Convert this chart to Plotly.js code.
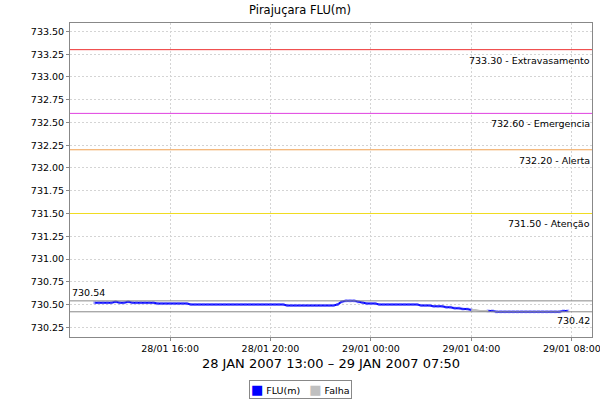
<!DOCTYPE html>
<html>
<head>
<meta charset="utf-8">
<script src="https://cdn.plot.ly/plotly-3.0.1.min.js"></script>
<style>html,body{margin:0;padding:0;background:#fff}#chart{width:600px;height:400px}</style>
</head>
<body>
<div id="chart"></div>
<script>
// Series: FLU(m), one reading every 10 minutes from 28/01/2007 13:00 to 29/01/2007 07:50
var startTime = '2007-01-28 13:00';
var stepMs = 600000;
var fluValues = [
  730.52,730.52,730.52,730.52,730.52,730.53,730.52,730.52,730.53,730.52,730.52,730.52,730.52,730.52,730.52,
  730.51,730.51,730.51,730.51,730.51,730.51,730.51,730.51,
  730.50,730.50,730.50,730.50,730.50,730.50,730.50,730.50,730.50,730.50,730.50,730.50,730.50,730.50,730.50,730.50,730.50,730.50,730.50,730.50,730.50,730.50,730.50,
  730.49,730.49,730.49,730.49,730.49,730.49,730.49,730.49,730.49,730.49,730.49,730.49,
  730.50,730.53,730.54,730.54,730.54,730.53,730.52,730.51,730.51,730.51,
  730.50,730.50,730.50,730.50,730.50,730.50,730.50,730.50,730.50,730.50,
  730.49,730.49,730.49,730.48,730.48,730.48,730.47,730.47,730.46,730.46,730.45,730.45,730.44,
  null,null,null,
  730.43,730.43,
  730.42,730.42,730.42,730.42,730.42,730.42,730.42,730.42,730.42,730.42,730.42,730.42,730.42,730.42,730.42,730.42,
  730.43,730.43
];
// Failure period (Falha)
var falhaTimes = ['2007-01-29 04:00','2007-01-29 04:10','2007-01-29 04:20','2007-01-29 04:30','2007-01-29 04:40'];
var falhaValues = [730.44,730.44,730.43,730.43,730.43];

// Alert levels
var levelValues = [733.30, 732.60, 732.20, 731.50];
var levelNames = ['Extravasamento', 'Emergencia', 'Alerta', 'Atenção'];
var levelColors = ['#ee3030', '#e040e0', '#f0a050', '#f0dc20'];
var maxValue = 730.54;
var minValue = 730.42;

var seriesNames = ['FLU(m)', 'Falha'];
var seriesColors = ['#0000ff', '#c0c0c0'];

var titleText = 'Pirajuçara FLU(m)';
var xTitleText = '28 JAN 2007 13:00 \u2013 29 JAN 2007 07:50';

var FONT = 'DejaVu Sans, sans-serif';

var traces = [
  {
    type: 'scatter', mode: 'lines', x0: startTime, dx: stepMs, y: fluValues, name: seriesNames[0],
    line: {color: seriesColors[0], width: 2}, connectgaps: false, showlegend: false, hoverinfo: 'skip'
  },
  {
    type: 'scatter', mode: 'markers', x0: startTime, dx: stepMs, y: fluValues,
    marker: {color: 'rgba(90,90,255,0.45)', size: 3, symbol: 'square'}, showlegend: false, hoverinfo: 'skip'
  },
  {
    type: 'scatter', mode: 'lines', x: falhaTimes, y: falhaValues, name: seriesNames[1],
    line: {color: seriesColors[1], width: 2}, showlegend: false, hoverinfo: 'skip'
  }
];

var shapes = [];
var annotations = [];
levelValues.forEach(function (v, i) {
  shapes.push({type: 'line', xref: 'paper', x0: 0, x1: 1, yref: 'y', y0: v, y1: v,
    line: {color: levelColors[i], width: 1}});
  annotations.push({xref: 'paper', x: 1, xanchor: 'right', yref: 'y', y: v, yanchor: 'top', yshift: -3,
    text: v.toFixed(2) + ' - ' + levelNames[i], showarrow: false,
    font: {family: FONT, size: 9.5, color: '#000'}});
});
shapes.push({type: 'line', xref: 'paper', x0: 0, x1: 1, yref: 'y', y0: maxValue, y1: maxValue,
  line: {color: '#888', width: 1}});
shapes.push({type: 'line', xref: 'paper', x0: 0, x1: 1, yref: 'y', y0: minValue, y1: minValue,
  line: {color: '#888', width: 1}});
annotations.push({xref: 'paper', x: 0, xanchor: 'left', yref: 'y', y: maxValue, yanchor: 'bottom', yshift: 1,
  text: maxValue.toFixed(2), showarrow: false, font: {family: FONT, size: 9.5, color: '#000'}});
annotations.push({xref: 'paper', x: 1, xanchor: 'right', yref: 'y', y: minValue, yanchor: 'top', yshift: -1,
  text: minValue.toFixed(2), showarrow: false, font: {family: FONT, size: 9.5, color: '#000'}});

// Compact legend box (as in the reference)
var legendText = seriesNames.map(function (n, i) {
  return '<span style="color:' + seriesColors[i] + ';font-size:13px">\u25A0</span> ' + n;
}).join('   ');
annotations.push({xref: 'paper', yref: 'paper', x: 0.442, xanchor: 'center', y: -0.166, yanchor: 'middle',
  text: legendText, showarrow: false, bordercolor: '#888', borderwidth: 1, borderpad: 1, bgcolor: '#fff',
  font: {family: FONT, size: 9.5, color: '#000'}});

var layout = {
  width: 600, height: 400,
  margin: {l: 70, r: 8, t: 23, b: 63},
  paper_bgcolor: '#fff', plot_bgcolor: '#fff',
  font: {family: FONT, size: 9.5, color: '#000'},
  title: {text: titleText, xref: 'container', x: 0.5, xanchor: 'center', yref: 'container', y: 0.975, yanchor: 'middle',
    font: {family: FONT, size: 11.5, color: '#000'}},
  xaxis: {
    type: 'date',
    range: ['2007-01-28 12:01', '2007-01-29 08:48'],
    dtick: 4 * 3600000, tick0: '2007-01-28 00:00',
    tickformat: '%d/%m %H:%M',
    ticklabeloverflow: 'allow',
    showgrid: true, gridcolor: '#d4d4d4', griddash: '2px,2px', gridwidth: 1,
    showline: true, linecolor: '#888', linewidth: 1, mirror: true,
    ticks: 'outside', ticklen: 3, tickcolor: '#888',
    zeroline: false,
    tickfont: {family: FONT, size: 9.5, color: '#000'},
    title: {text: xTitleText, standoff: 5, font: {family: FONT, size: 13, color: '#000'}}
  },
  yaxis: {
    range: [730.143, 733.593],
    dtick: 0.25, tick0: 730,
    tickformat: '.2f',
    showgrid: true, gridcolor: '#d4d4d4', griddash: '2px,2px', gridwidth: 1,
    showline: true, linecolor: '#888', linewidth: 1, mirror: true,
    ticks: 'outside', ticklen: 3, tickcolor: '#888',
    zeroline: false,
    tickfont: {family: FONT, size: 9.5, color: '#000'}
  },
  showlegend: false,
  shapes: shapes,
  annotations: annotations
};

Plotly.newPlot('chart', traces, layout, {staticPlot: true, displayModeBar: false});
</script>
</body>
</html>
